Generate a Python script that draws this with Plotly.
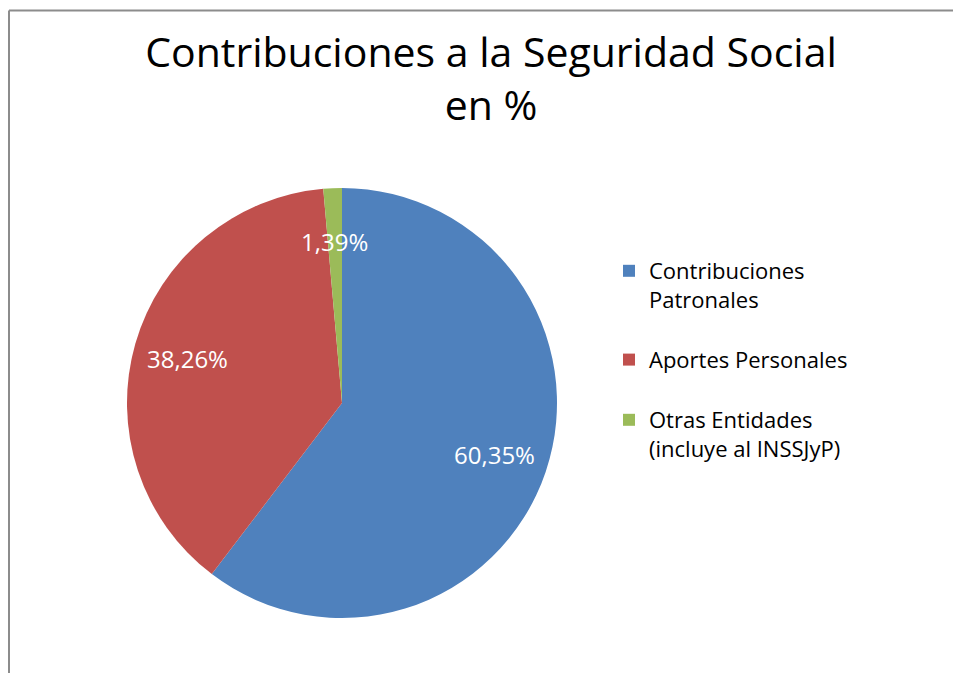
"""Contribuciones a la Seguridad Social en %

Pie chart of the share of each source of social security contributions.
"""

import math
import plotly.graph_objects as go

# Data
labels = ["Contribuciones<br>Patronales", "Aportes Personales",
          "Otras Entidades<br>(incluye al INSSJyP)"]
values = [60.35, 38.26, 1.39]
colors = ["#4F81BD", "#C0504D", "#9BBB59"]

W, H = 961, 673
OFF = 8  # the page body adds an 8px margin
FONT = "Open Sans"


def sx(px):
    return (px - OFF) / W


def sy(py):
    return 1 - (py - OFF) / H


# Extra blank lines so the legend entries are spread like in the original
legend_pad = ["<br>\u00a0", "<br>\u00a0", ""]
legend_labels = [lab + pad for lab, pad in zip(labels, legend_pad)]

# Pie placement (screen pixels of the reference)
dom_x = [sx(127), sx(557)]
dom_y = [sy(618), sy(188)]

fig = go.Figure()

fig.add_trace(go.Pie(
    labels=legend_labels,
    values=values,
    sort=False,
    direction="clockwise",
    rotation=0,
    marker=dict(colors=colors, line=dict(color="white", width=0)),
    textinfo="none",
    hoverinfo="label+percent",
    domain=dict(x=dom_x, y=dom_y),
))

# Data labels at 3/4 of the radius, in the middle of each slice
cx = (dom_x[0] + dom_x[1]) / 2
cy = (dom_y[0] + dom_y[1]) / 2
rx = (dom_x[1] - dom_x[0]) / 2
ry = (dom_y[1] - dom_y[0]) / 2
total = sum(values)
annotations = []
cum = 0
for v in values:
    mid = (cum + v / 2) / total
    cum += v
    ang = 2 * math.pi * mid
    annotations.append(dict(
        x=cx + 0.75 * rx * math.sin(ang),
        y=cy + 0.75 * ry * math.cos(ang),
        xref="paper", yref="paper",
        xanchor="center", yanchor="middle",
        text=f"{v:.2f}%".replace(".", ","),
        showarrow=False,
        font=dict(family=FONT, size=24, color="white"),
    ))

fig.update_layout(
    width=W,
    height=H,
    margin=dict(l=0, r=0, t=0, b=0),
    paper_bgcolor="white",
    plot_bgcolor="white",
    font=dict(family=FONT, color="#000000"),
    title=dict(
        text="Contribuciones a la Seguridad Social<br>en %",
        x=sx(491), xanchor="center",
        y=sy(67), yanchor="top",
        font=dict(family=FONT, size=41, color="#000000"),
    ),
    legend=dict(
        x=sx(609), xanchor="left",
        y=sy(250), yanchor="top",
        font=dict(family=FONT, size=22, color="#000000"),
        itemwidth=30,
        valign="top",
        traceorder="normal",
    ),
    annotations=annotations,
    shapes=[
        dict(type="line", xref="paper", yref="paper",
             x0=sx(9), x1=1.01, y0=sy(10.5), y1=sy(10.5),
             line=dict(color="#8C8C8C", width=2)),
        dict(type="line", xref="paper", yref="paper",
             x0=sx(9), x1=sx(9), y0=sy(10.5), y1=-0.01,
             line=dict(color="#8C8C8C", width=2)),
    ],
)

fig.write_html("out.html")
